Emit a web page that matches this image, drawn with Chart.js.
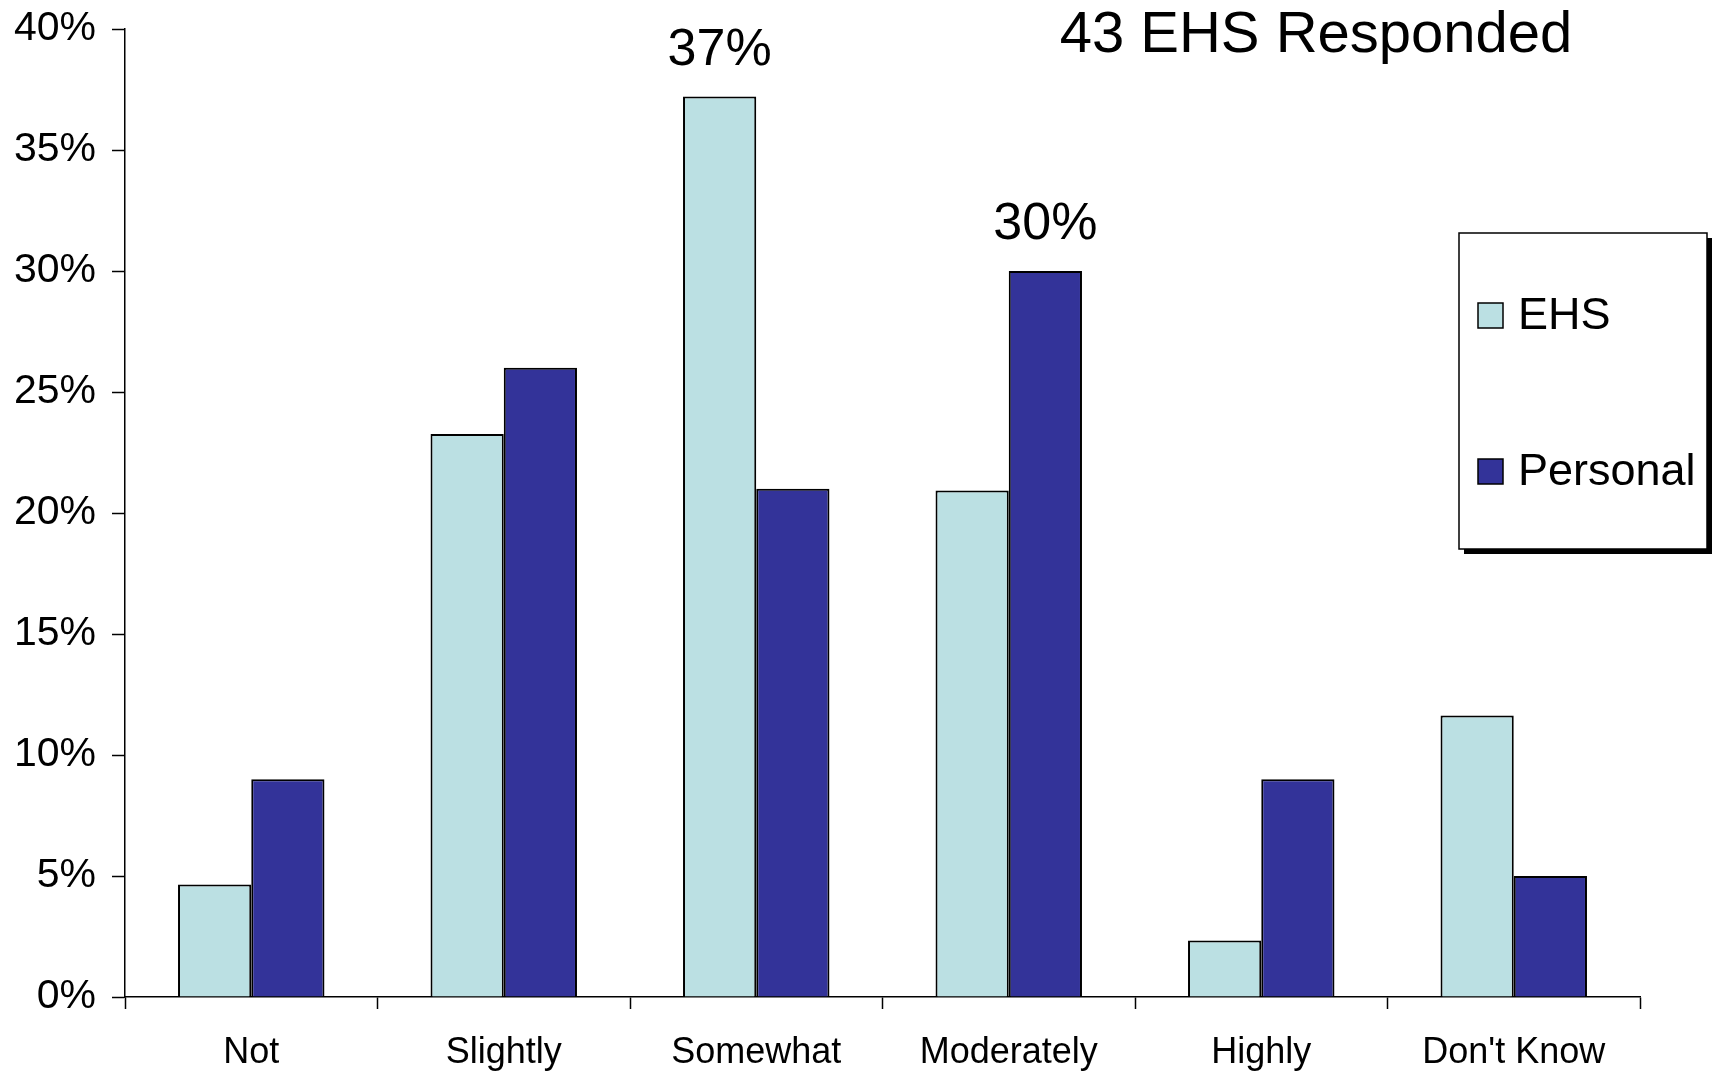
<!DOCTYPE html>
<html>
<head>
<meta charset="utf-8">
<script src="https://cdn.jsdelivr.net/npm/chart.js@4.4.1/dist/chart.umd.min.js"></script>
<style>
  html, body { margin: 0; padding: 0; background: #fff; }
  #wrap { width: 1714px; height: 1071px; }
</style>
</head>
<body>
<div id="wrap"><canvas id="barChart" width="1714" height="1071"></canvas></div>
<script>
// chart data
var categories = ["Not", "Slightly", "Somewhat", "Moderately", "Highly", "Don't Know"];
var ehsValues = [4.65, 23.26, 37.21, 20.93, 2.33, 11.63];
var personalValues = [9, 26, 21, 30, 9, 5];
var seriesNames = ["EHS", "Personal"];
var seriesColors = ["#BBE0E3", "#333399"];
var yTicks = [0, 5, 10, 15, 20, 25, 30, 35, 40];
var titleText = "43 EHS Responded";
// bars that carry a value label: [datasetIndex, categoryIndex]
var calloutBars = [[0, 2], [1, 3]];

var FONT = "'Liberation Sans', Arial, Helvetica, sans-serif";

// draws the title, the two value labels and the boxed legend
var extrasPlugin = {
    id: 'extras',
    afterDraw: function (chart) {
        var c = chart.ctx;
        c.save();
        c.fillStyle = '#000';
        c.textAlign = 'center';

        // title text in upper right
        c.font = '58px ' + FONT;
        c.textBaseline = 'middle';
        c.fillText(titleText, 1316, 36);

        // value labels above selected bars
        c.font = '52px ' + FONT;
        c.textBaseline = 'bottom';
        calloutBars.forEach(function (cb) {
            var bar = chart.getDatasetMeta(cb[0]).data[cb[1]];
            var v = chart.data.datasets[cb[0]].data[cb[1]];
            c.fillText(Math.round(v) + '%', bar.x, bar.y - 20);
        });

        // legend box with drop shadow
        var bx = 1459, by = 233, bw = 248, bh = 316;
        c.fillStyle = '#000';
        c.fillRect(bx + 5, by + 5, bw, bh);
        c.fillStyle = '#fff';
        c.fillRect(bx, by, bw, bh);
        c.lineWidth = 1.5;
        c.strokeStyle = '#000';
        c.strokeRect(bx, by, bw, bh);

        c.font = '45px ' + FONT;
        c.textAlign = 'left';
        c.textBaseline = 'middle';
        var rowY = [315, 471];
        chart.data.datasets.forEach(function (ds, i) {
            c.fillStyle = ds.backgroundColor;
            c.fillRect(1478, rowY[i] - 12, 25, 25);
            c.lineWidth = 1.5;
            c.strokeRect(1478, rowY[i] - 12, 25, 25);
            c.fillStyle = '#000';
            c.fillText(ds.label, 1518, rowY[i] + 2);
        });
        c.restore();
    }
};

var ctx = document.getElementById('barChart').getContext('2d');
var barChart = new Chart(ctx, {
    type: 'bar',
    data: {
        labels: categories,
        datasets: [
            {
                label: seriesNames[0],
                data: ehsValues,
                backgroundColor: seriesColors[0],
                borderColor: '#000',
                borderWidth: 2,
                barPercentage: 1,
                categoryPercentage: 0.58
            },
            {
                label: seriesNames[1],
                data: personalValues,
                backgroundColor: seriesColors[1],
                borderColor: '#000',
                borderWidth: 2,
                barPercentage: 1,
                categoryPercentage: 0.58
            }
        ]
    },
    options: {
        responsive: false,
        animation: false,
        layout: { padding: { top: 29, right: 74, left: 0, bottom: 0 } },
        plugins: {
            legend: { display: false },
            tooltip: { enabled: false }
        },
        scales: {
            x: {
                grid: {
                    offset: true,
                    drawOnChartArea: false,
                    tickLength: 12,
                    tickColor: '#000',
                    tickWidth: 1.5
                },
                border: { color: '#000', width: 1.5 },
                ticks: {
                    color: '#000',
                    font: { family: FONT, size: 36 },
                    padding: 22,
                    maxRotation: 0
                },
                afterFit: function (scale) { scale.height = 74; }
            },
            y: {
                min: 0,
                max: 40,
                afterBuildTicks: function (scale) {
                    scale.ticks = yTicks.map(function (v) { return { value: v }; });
                },
                grid: {
                    drawOnChartArea: false,
                    tickLength: 13,
                    tickColor: '#000',
                    tickWidth: 1.5
                },
                border: { color: '#000', width: 1.5 },
                ticks: {
                    color: '#000',
                    font: { family: FONT, size: 41 },
                    padding: 16,
                    callback: function (v) { return v + '%'; }
                },
                afterFit: function (scale) {
                    scale.width = 125;
                    scale.paddingTop = 0;
                }
            }
        }
    },
    plugins: [extrasPlugin]
});
</script>
</body>
</html>
